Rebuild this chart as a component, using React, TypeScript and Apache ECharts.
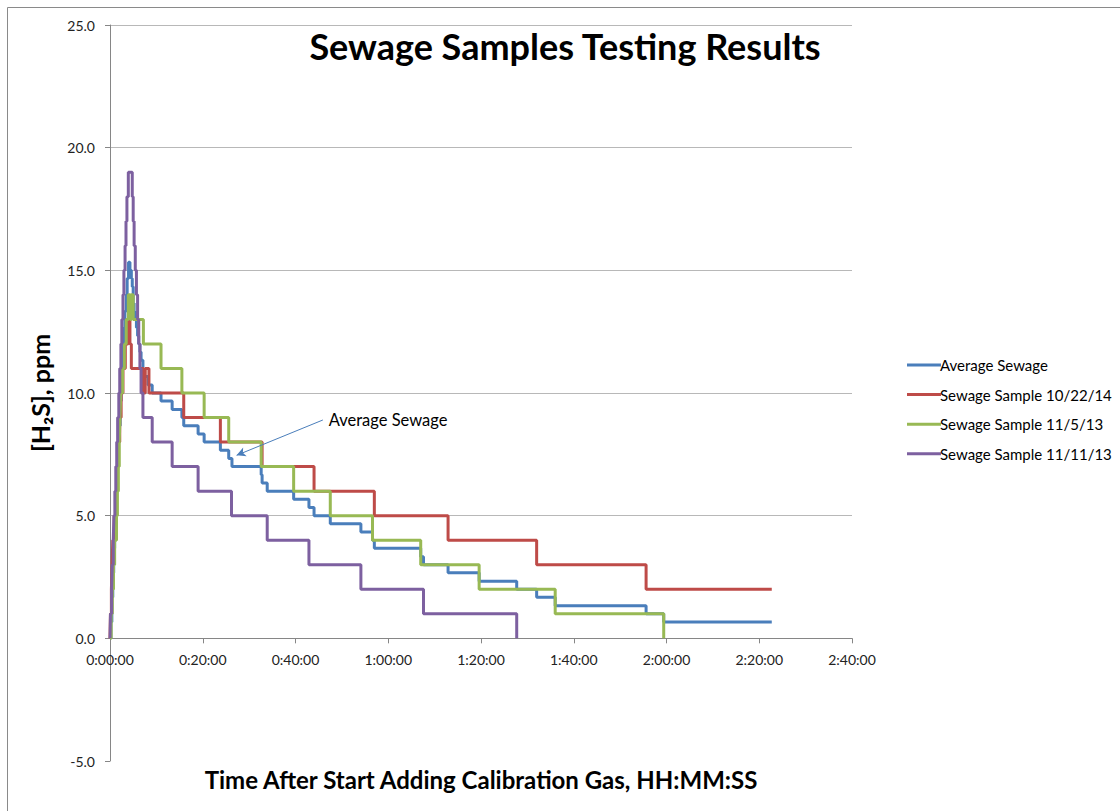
import React, { useEffect, useRef } from "react";
import * as echarts from "echarts";

// time in minutes after start, value in ppm (value holds from that time on)
const averageSewage: [number, number][] = [
  [0, 0], [0.2, 0.67], [0.4, 1.67], [0.6, 2.67], [0.8, 3.67], [1.0, 4.67], [1.2, 5.33], [1.4, 6.33],
  [1.6, 7.0], [1.8, 8.0], [2.0, 8.67], [2.2, 9.67], [2.4, 10.33], [2.6, 11.33], [2.8, 12.0], [3.0, 12.67],
  [3.2, 13.33], [3.5, 14.0], [3.7, 14.67], [4.0, 15.33], [4.3, 15.0], [4.6, 14.67], [4.8, 14.33],
  [5.0, 13.67], [5.2, 13.33], [5.45, 13.0], [5.7, 12.67], [5.95, 12.33], [6.2, 12.0], [6.45, 11.67],
  [6.7, 11.33], [7.1, 11.0], [7.2, 10.67], [8.2, 10.33], [9.1, 10.0], [11.0, 9.67], [13.4, 9.33],
  [15.5, 9.0], [15.9, 8.67], [19.0, 8.33], [20.3, 8.0], [23.8, 7.67], [25.6, 7.33], [26.3, 7.0],
  [32.6, 6.67], [32.8, 6.33], [33.9, 6.0], [39.6, 5.67], [42.9, 5.33], [44.0, 5.0], [47.5, 4.67],
  [54.1, 4.33], [56.6, 4.0], [57.0, 3.67], [67.0, 3.33], [67.6, 3.0], [72.9, 2.67], [79.6, 2.33],
  [87.7, 2.0], [92.0, 1.67], [96.0, 1.33], [115.6, 1.0], [119.4, 0.67], [142.7, 0.67],
];

const sample102214: [number, number][] = [
  [0, 0], [0.1, 1], [0.3, 2], [0.45, 3], [0.6, 4], [0.9, 5], [1.2, 6], [1.5, 7], [1.8, 8], [2.1, 9],
  [2.4, 10], [2.8, 11], [3.3, 12], [3.9, 13], [4.3, 12], [4.6, 11], [7.2, 10], [7.6, 11], [8.4, 10],
  [15.9, 9], [23.8, 8], [32.8, 7], [44.0, 6], [57.0, 5], [72.9, 4], [92.0, 3], [115.6, 2], [142.7, 2],
];

const sample11513: [number, number][] = [
  [0, 0], [0.25, 1], [0.5, 2], [0.75, 3], [1.0, 4], [1.4, 5], [1.6, 6], [1.8, 7], [2.0, 8], [2.15, 9],
  [2.3, 10], [2.7, 11], [3.1, 12], [3.5, 13], [3.95, 14], [4.4, 13], [4.6, 14], [5.0, 13], [7.2, 12],
  [11.0, 11], [15.5, 10], [20.3, 9], [25.6, 8], [32.6, 7], [39.6, 6], [47.5, 5], [56.6, 4], [67.0, 3],
  [79.6, 2], [96.0, 1], [119.4, 0],
];

const sample111113: [number, number][] = [
  [0, 0], [0.1, 1], [0.35, 2], [0.5, 3], [0.7, 4], [0.85, 5], [1.05, 6], [1.25, 7], [1.45, 8],
  [1.65, 9], [1.9, 10], [2.1, 11], [2.35, 12], [2.55, 13], [2.8, 14], [3.0, 15], [3.25, 16],
  [3.45, 17], [3.65, 18], [3.95, 19], [4.8, 18], [5.0, 17], [5.2, 16], [5.45, 15], [5.7, 14],
  [5.95, 13], [6.2, 12], [6.45, 11], [6.7, 10], [7.1, 9], [9.1, 8], [13.4, 7], [19.0, 6], [26.2, 5],
  [33.9, 4], [42.9, 3], [54.1, 2], [67.6, 1], [87.7, 0],
];

const seriesNames = [
  "Average Sewage",
  "Sewage Sample 10/22/14",
  "Sewage Sample 11/5/13",
  "Sewage Sample 11/11/13",
];
const seriesColors = ["#4A7EBB", "#BE4B48", "#98B954", "#7D60A0"];

// annotation arrow (data coordinates: minutes, ppm)
const annotationText = "Average Sewage";
const arrowFrom: [number, number] = [45.9, 8.9];
const arrowTo: [number, number] = [27.3, 7.46];

const xMin = 0, xMax = 160, xStep = 20;
const yMin = -5, yMax = 25, yStep = 5;

const FONT = "Lato, 'Open Sans', sans-serif";

const GRID_TOP = 25;
const GRID_BOTTOM_PX = 761;
const GRID_H = GRID_BOTTOM_PX - GRID_TOP;

function fmtTime(m: number): string {
  const h = Math.floor(m / 60);
  const mm = Math.round(m % 60);
  return `${h}:${String(mm).padStart(2, "0")}:00`;
}

export default function App() {
  const ref = useRef<HTMLDivElement>(null);
  useEffect(() => {
    if (!ref.current) return;
    const chart = echarts.init(ref.current, undefined, { renderer: "svg" });
    const datasets = [averageSewage, sample102214, sample11513, sample111113];
    const series: any[] = datasets.map((d, i) => ({
      name: seriesNames[i],
      type: "line",
      step: "end",
      data: d,
      symbol: "none",
      z: 2 + i,
      lineStyle: { color: seriesColors[i], width: 3 },
      itemStyle: { color: seriesColors[i] },
    }));
    series[0].markLine = {
      silent: true,
      symbol: ["none", "arrow"],
      symbolSize: [7, 9],
      label: { show: false },
      lineStyle: { color: seriesColors[0], width: 1, type: "solid" },
      data: [[{ coord: arrowFrom }, { coord: arrowTo }]],
    };
    series[0].markPoint = {
      silent: true,
      symbol: "circle",
      symbolSize: 0,
      data: [
        {
          coord: [arrowFrom[0] + 0.4, arrowFrom[1]],
          label: {
            show: true,
            position: "right",
            distance: 4,
            formatter: annotationText,
            color: "#000",
            fontSize: 16.5,
            fontFamily: FONT,
          },
        },
      ],
    };

    // x axis sits on y = 0: shift it up from the grid bottom by the distance of 0 from yMin
    const zeroOffset = -(GRID_H * (0 - yMin)) / (yMax - yMin);

    chart.setOption({
      animation: false,
      backgroundColor: "#fff",
      grid: { left: 110, right: 268, top: GRID_TOP, bottom: 811 - GRID_BOTTOM_PX, containLabel: false },
      legend: {
        orient: "vertical",
        left: 902,
        top: 352,
        icon: "rect",
        itemWidth: 34,
        itemHeight: 3,
        itemGap: 13.6,
        data: seriesNames,
        textStyle: { fontSize: 15, lineHeight: 16, color: "#000", fontFamily: FONT, padding: [0, 0, 0, -6] },
      },
      xAxis: {
        type: "value",
        min: xMin,
        max: xMax,
        interval: xStep,
        position: "bottom",
        offset: zeroOffset,
        axisLine: { show: true, onZero: false, lineStyle: { color: "#868686", width: 1 } },
        axisTick: { show: true, length: 5, lineStyle: { color: "#868686" } },
        splitLine: { show: false },
        axisLabel: {
          margin: 14,
          fontSize: 14,
          color: "#222",
          fontFamily: FONT,
          formatter: (v: number) => fmtTime(v),
        },
      },
      yAxis: {
        type: "value",
        min: yMin,
        max: yMax,
        interval: yStep,
        name: "[H₂S], ppm",
        nameLocation: "middle",
        nameGap: 58,
        nameRotate: 90,
        nameTextStyle: { fontSize: 25, fontWeight: "bold", color: "#000", fontFamily: FONT },
        axisLine: { show: true, lineStyle: { color: "#868686", width: 1 } },
        axisTick: { show: true, length: 5, lineStyle: { color: "#868686" } },
        splitLine: { show: true, showMinLine: false, lineStyle: { color: "#b8b8b8", width: 1 } },
        axisLabel: {
          margin: 15,
          fontSize: 14,
          color: "#222",
          fontFamily: FONT,
          formatter: (v: number) => v.toFixed(1),
        },
      },
      graphic: [
        {
          type: "rect",
          silent: true,
          z: -10,
          shape: { x: 7.5, y: 7.5, width: 1200, height: 900 },
          style: { fill: "none", stroke: "#8a8a8a", lineWidth: 1 },
        },
        {
          type: "text",
          x: 565,
          y: 46,
          style: {
            text: "Sewage Samples Testing Results",
            textAlign: "center",
            textVerticalAlign: "middle",
            fontSize: 36,
            fontWeight: "bold",
            fontFamily: FONT,
            fill: "#000",
          },
        },
        {
          type: "text",
          x: 481,
          y: 779,
          style: {
            text: "Time After Start Adding Calibration Gas, HH:MM:SS",
            textAlign: "center",
            textVerticalAlign: "middle",
            fontSize: 24,
            fontWeight: "bold",
            fontFamily: FONT,
            fill: "#000",
          },
        },
      ],
      series,
    });
    return () => chart.dispose();
  }, []);
  return (
    <div
      ref={ref}
      style={{ position: "absolute", left: 0, top: 0, width: 1120, height: 811 }}
    />
  );
}
